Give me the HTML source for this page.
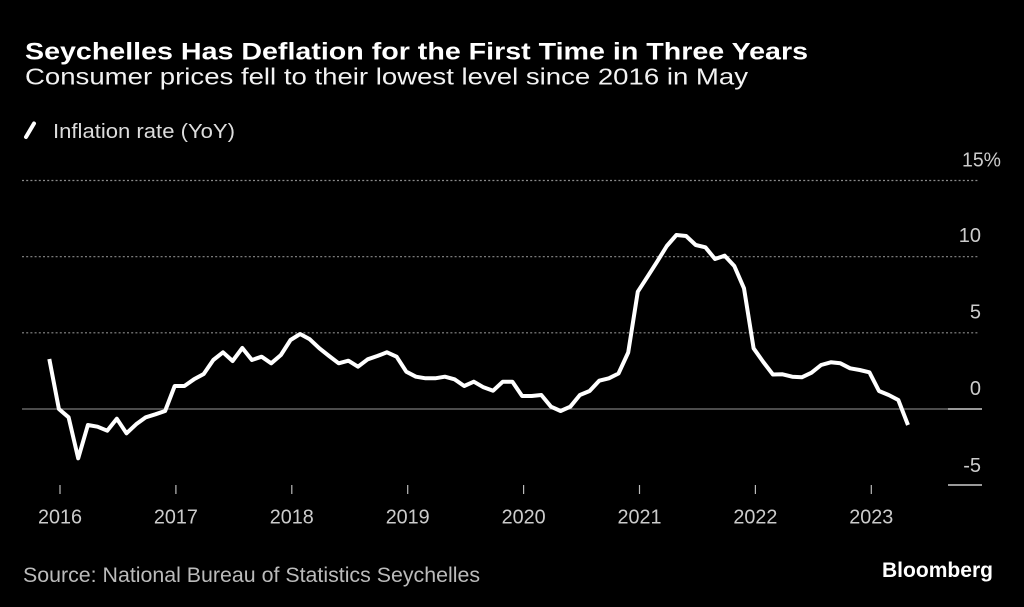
<!DOCTYPE html>
<html>
<head>
<meta charset="utf-8">
<style>
  html, body { margin:0; padding:0; background:#000; }
  body { width:1024px; height:607px; overflow:hidden; }
  svg { display:block; }
  text { font-family: "Liberation Sans", "DejaVu Sans", sans-serif; }
</style>
</head>
<body>
<svg width="1024" height="607" viewBox="0 0 1024 607" xmlns="http://www.w3.org/2000/svg">
  <rect x="0" y="0" width="1024" height="607" fill="#000"/>

  <!-- Title & subtitle -->
  <text x="25" y="59.5" font-size="24" font-weight="bold" fill="#ffffff" textLength="783" lengthAdjust="spacingAndGlyphs">Seychelles Has Deflation for the First Time in Three Years</text>
  <text x="25" y="84.5" font-size="23" fill="#f2f2f2" textLength="723" lengthAdjust="spacingAndGlyphs">Consumer prices fell to their lowest level since 2016 in May</text>

  <!-- Legend -->
  <line x1="26" y1="137" x2="34" y2="123.5" stroke="#ffffff" stroke-width="4" stroke-linecap="round"/>
  <text x="53" y="138" font-size="20" fill="#dddddd" textLength="182" lengthAdjust="spacingAndGlyphs">Inflation rate (YoY)</text>

  <!-- Gridlines -->
  <g stroke="#8a8a8a" stroke-width="1.2" stroke-dasharray="2 2.2">
    <line x1="22" y1="180.5" x2="978" y2="180.5"/>
    <line x1="22" y1="256.7" x2="978" y2="256.7"/>
    <line x1="22" y1="332.8" x2="978" y2="332.8"/>
  </g>
  <line x1="22" y1="409" x2="948" y2="409" stroke="#7a7a7a" stroke-width="1.2"/>
  <line x1="948" y1="409" x2="982" y2="409" stroke="#cccccc" stroke-width="1.4"/>
  <line x1="948" y1="485" x2="982" y2="485" stroke="#cccccc" stroke-width="1.4"/>

  <!-- Y labels -->
  <g font-size="20" fill="#cccccc" text-anchor="end">
    <text x="981" y="242">10</text>
    <text x="981" y="318.5">5</text>
    <text x="981" y="395">0</text>
    <text x="981" y="472">-5</text>
  </g>
  <text x="962" y="166.5" font-size="20" fill="#cccccc" textLength="39" lengthAdjust="spacingAndGlyphs">15%</text>

  <!-- X ticks -->
  <g stroke="#bbbbbb" stroke-width="1.2">
    <line x1="60" y1="485" x2="60" y2="494"/>
    <line x1="175.9" y1="485" x2="175.9" y2="494"/>
    <line x1="291.8" y1="485" x2="291.8" y2="494"/>
    <line x1="407.7" y1="485" x2="407.7" y2="494"/>
    <line x1="523.6" y1="485" x2="523.6" y2="494"/>
    <line x1="639.5" y1="485" x2="639.5" y2="494"/>
    <line x1="755.4" y1="485" x2="755.4" y2="494"/>
    <line x1="871.3" y1="485" x2="871.3" y2="494"/>
  </g>
  <g font-size="20.5" fill="#cccccc" text-anchor="middle">
    <text x="60" y="523.5" textLength="44" lengthAdjust="spacingAndGlyphs">2016</text>
    <text x="175.9" y="523.5" textLength="44" lengthAdjust="spacingAndGlyphs">2017</text>
    <text x="291.8" y="523.5" textLength="44" lengthAdjust="spacingAndGlyphs">2018</text>
    <text x="407.7" y="523.5" textLength="44" lengthAdjust="spacingAndGlyphs">2019</text>
    <text x="523.6" y="523.5" textLength="44" lengthAdjust="spacingAndGlyphs">2020</text>
    <text x="639.5" y="523.5" textLength="44" lengthAdjust="spacingAndGlyphs">2021</text>
    <text x="755.4" y="523.5" textLength="44" lengthAdjust="spacingAndGlyphs">2022</text>
    <text x="871.3" y="523.5" textLength="44" lengthAdjust="spacingAndGlyphs">2023</text>
  </g>

  <!-- Series -->
  <polyline fill="none" stroke="#ffffff" stroke-width="4" stroke-linejoin="round" stroke-linecap="butt"
    points="49.3,359 58.9,409 68.6,417.3 78.2,458.3 87.9,425 97.5,426.7 107.2,430.7 116.8,418.7 126.5,433.3 136.1,424.3 145.8,417.3 155.4,414.3 165.1,411
    174.7,386 184.4,386 194.0,379.3 203.7,374 213.3,360 223.0,352.3 232.6,361 242.3,348 251.9,360 261.6,356.7 271.2,363.3 280.9,355
    290.5,340 300.1,334 309.8,339.3 319.4,348.3 329.1,356 338.7,363.3 348.4,360.7 358.0,366.7 367.7,359.3 377.3,356 387.0,352.3 396.6,356.7
    406.3,371.7 415.9,376.7 425.6,378.3 435.2,378.3 444.9,376.7 454.5,379.3 464.2,386 473.8,381.7 483.5,387.3 493.1,390.7 502.8,381.7 512.4,381.7
    522.1,396 531.7,396 541.3,395 551.0,406.7 560.6,411 570.3,406.7 579.9,395 589.6,391 599.2,380.7 608.9,378.3 618.5,373.5 628.2,352.5
    637.8,291.7 647.5,276.7 657.1,261.7 666.8,246 676.4,235 686.1,236 695.7,245 705.4,247.3 715.0,259 724.7,255.7 734.3,266 744.0,288.3
    753.6,348.3 763.3,362 772.9,374.5 782.5,374.3 792.2,376.7 801.8,377.3 811.5,372.7 821.1,365 830.8,362.3 840.4,363.3 850.1,368.3 859.7,370
    869.4,372.3 879.0,391 888.7,395 898.3,400 908.0,425"/>

  <!-- Footer -->
  <text x="23" y="582" font-size="21" fill="#bbbbbb" textLength="457" lengthAdjust="spacingAndGlyphs">Source: National Bureau of Statistics Seychelles</text>
  <text x="882" y="577" font-size="21" font-weight="bold" fill="#ffffff" textLength="111" lengthAdjust="spacingAndGlyphs">Bloomberg</text>
</svg>
</body>
</html>
